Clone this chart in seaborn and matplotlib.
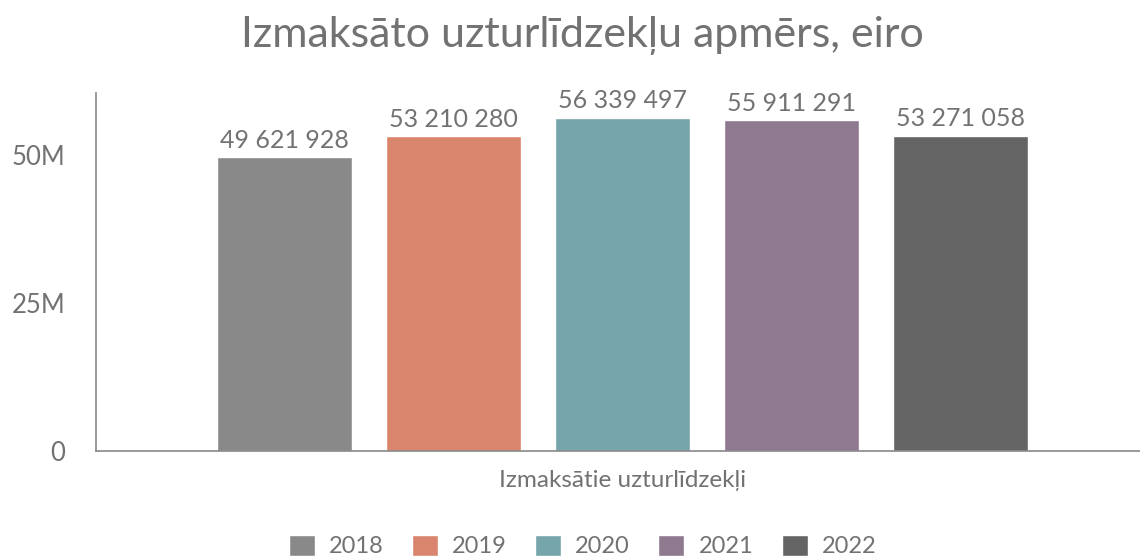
import matplotlib
matplotlib.use("Agg")
import matplotlib.pyplot as plt
import seaborn as sns
import pandas as pd

# data
category = ["Izmaksātie uzturlīdzekļi"]
years = ["2018", "2019", "2020", "2021", "2022"]
values = [49621928, 53210280, 56339497, 55911291, 53271058]
colors = ["#898989", "#d9846d", "#76a5ab", "#8e798f", "#646464"]

df = pd.DataFrame({
    "category": category * len(years),
    "year": years,
    "value": values,
})

sns.set_theme(style="white")
plt.rcParams["font.family"] = ["Lato", "DejaVu Sans"]
text_color = "#727272"

fig = plt.figure(figsize=(11.4, 5.6), dpi=100)
ax = fig.add_axes([0.084, 0.195, 0.916, 0.639])

sns.barplot(data=df, x="category", y="value", hue="year", palette=colors,
            gap=0.2, width=0.8, saturation=1, ax=ax)

# value labels, space as thousands separator
for cont, v in zip(ax.containers, values):
    lbl = f"{v:,}".replace(",", " ")
    ax.bar_label(cont, labels=[lbl], padding=4, fontsize=18, color=text_color)

ax.set_ylim(0, 60.5e6)
ax.set_xlim(-0.499, 0.49)
ax.set_yticks([0, 25e6, 50e6])
ax.set_yticklabels(["0", "25M", "50M"])
ax.tick_params(axis="y", length=0, pad=22, labelsize=18.5, labelcolor=text_color)
ax.tick_params(axis="x", length=0, pad=14, labelsize=17.5, labelcolor=text_color)
ax.set_xlabel("")
ax.set_ylabel("")

for s in ["top", "right"]:
    ax.spines[s].set_visible(False)
for s in ["left", "bottom"]:
    ax.spines[s].set_color("#888888")
    ax.spines[s].set_linewidth(1.2)

fig.text(0.511, 1 - 47 / 560, "Izmaksāto uzturlīdzekļu apmērs, eiro", ha="center", va="baseline",
         fontsize=31, color=text_color)

handles, labels = ax.get_legend_handles_labels()
ax.legend_.remove()
fig.legend(handles, labels, loc="center", bbox_to_anchor=(0.511, 0.025), ncol=5, frameon=False,
           fontsize=17, handlelength=1.1, handleheight=1.0, handletextpad=0.6,
           columnspacing=1.2, labelcolor=text_color, borderpad=0)

fig.savefig("out.png", dpi=100)
